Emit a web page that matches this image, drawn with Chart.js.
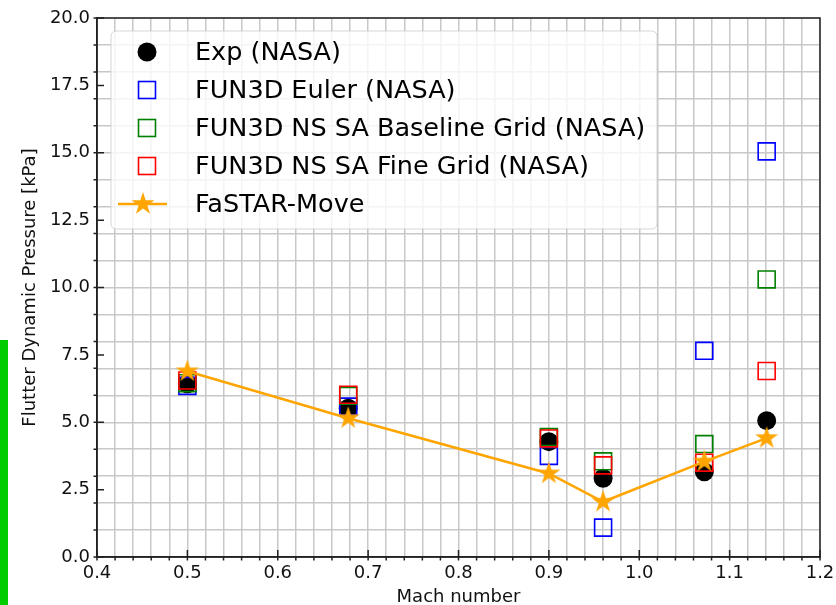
<!DOCTYPE html>
<html>
<head>
<meta charset="utf-8">
<script src="https://cdn.jsdelivr.net/npm/chart.js@4.4.0/dist/chart.umd.min.js"></script>
<style>
  html, body { margin: 0; padding: 0; background: #fff; }
  #wrap { position: relative; width: 836px; height: 605px; }
  #edge { position: absolute; left: 0; top: 340px; width: 8px; height: 265px; background: #00cc00; }
</style>
</head>
<body>
<div id="wrap">
  <canvas id="chart" width="836" height="605"></canvas>
  <div id="edge"></div>
</div>
<script>
// Mach numbers of the test points
const mach = [0.5, 0.678, 0.9, 0.96, 1.072, 1.141];

// flutter dynamic pressure [kPa]
const expNasa = [6.43, 5.52, 4.28, 2.92, 3.16, 5.06];
const fun3dEuler = [6.35, 5.58, 3.75, 1.09, 7.65, 15.05];
const fun3dBaseline = [6.45, 5.98, 4.45, 3.55, 4.19, 10.3];
const fun3dFine = [6.55, 6.02, 4.4, 3.4, 3.5, 6.9];
const fastarMove = [6.89, 5.15, 3.1, 2.05, 3.54, 4.41];

// tick labels
const xTickLabels = ['0.4', '0.5', '0.6', '0.7', '0.8', '0.9', '1.0', '1.1', '1.2'];
const yTickLabels = ['0.0', '2.5', '5.0', '7.5', '10.0', '12.5', '15.0', '17.5', '20.0'];

// minor grid every 0.02 in Mach and every 1 kPa
const xGrid = [];
for (let i = 0; i <= 40; i++) xGrid.push(+(0.4 + i * 0.02).toFixed(2));
const yGrid = [];
for (let i = 0; i <= 20; i++) yGrid.push(i);

const yMajor = yTickLabels.map(Number);
const xMajor = xTickLabels.map(Number);
const yAll = Array.from(new Set(yGrid.concat(yMajor))).sort((a, b) => a - b);

const FONT = 'DejaVu Sans';
const GRID = '#c8c8c8';
const AXIS = '#222222';

function toPoints(ys) {
  return mach.map((m, i) => ({ x: m, y: ys[i] }));
}

function starImage(r, color) {
  const c = document.createElement('canvas');
  const s = Math.ceil(r * 2 + 2);
  c.width = s;
  c.height = s;
  const g = c.getContext('2d');
  g.translate(s / 2, s / 2);
  g.beginPath();
  for (let k = 0; k < 10; k++) {
    const rad = k % 2 === 0 ? r : r * 0.382;
    const a = -Math.PI / 2 + k * Math.PI / 5;
    g.lineTo(rad * Math.cos(a), rad * Math.sin(a));
  }
  g.closePath();
  g.fillStyle = color;
  g.fill();
  return c;
}
const star = starImage(12, '#ffa500');

function isIn(list, v) {
  return list.some((t) => Math.abs(t - v) < 1e-9);
}

// frame, tick marks and legend drawn on top
const decorations = {
  id: 'decorations',
  afterDraw(chart) {
    const { ctx, chartArea: a, scales: { x, y } } = chart;
    ctx.save();
    ctx.strokeStyle = AXIS;
    ctx.lineWidth = 1.5;
    ctx.beginPath();
    ctx.rect(a.left, a.top, a.right - a.left, a.bottom - a.top);
    ctx.stroke();

    ctx.beginPath();
    xGrid.forEach((v) => {
      const px = x.getPixelForValue(v);
      ctx.moveTo(px, a.bottom);
      ctx.lineTo(px, a.bottom + 3.5);
    });
    xMajor.forEach((v) => {
      const px = x.getPixelForValue(v);
      ctx.moveTo(px, a.bottom);
      ctx.lineTo(px, a.bottom - 7);
    });
    yGrid.forEach((v) => {
      const py = y.getPixelForValue(v);
      ctx.moveTo(a.left, py);
      ctx.lineTo(a.left - 3.5, py);
    });
    yMajor.forEach((v) => {
      const py = y.getPixelForValue(v);
      ctx.moveTo(a.left, py);
      ctx.lineTo(a.left + 7, py);
    });
    ctx.stroke();

    // legend box
    const bx = 111, by = 31, bw = 546, bh = 198, br = 5;
    ctx.beginPath();
    ctx.moveTo(bx + br, by);
    ctx.arcTo(bx + bw, by, bx + bw, by + bh, br);
    ctx.arcTo(bx + bw, by + bh, bx, by + bh, br);
    ctx.arcTo(bx, by + bh, bx, by, br);
    ctx.arcTo(bx, by, bx + bw, by, br);
    ctx.closePath();
    ctx.fillStyle = 'rgba(255,255,255,0.8)';
    ctx.fill();
    ctx.strokeStyle = 'rgba(204,204,204,0.8)';
    ctx.lineWidth = 1;
    ctx.stroke();

    const mx = 147, tx = 195, ty0 = 52, dy = 38;
    ctx.font = '25.5px "' + FONT + '"';
    ctx.textBaseline = 'middle';
    ctx.textAlign = 'left';
    chart.data.datasets.slice().sort((p, q) => p.legendIndex - q.legendIndex).forEach((ds, i) => {
      const cy = ty0 + i * dy;
      if (ds.showLine) {
        ctx.strokeStyle = ds.borderColor;
        ctx.lineWidth = ds.borderWidth;
        ctx.beginPath();
        ctx.moveTo(mx - 29, cy);
        ctx.lineTo(mx + 20, cy);
        ctx.stroke();
        ctx.drawImage(ds.pointStyle, mx - ds.pointStyle.width / 2 - 4, cy - ds.pointStyle.height / 2);
      } else if (ds.pointStyle === 'circle') {
        ctx.fillStyle = ds.pointBackgroundColor;
        ctx.beginPath();
        ctx.arc(mx, cy, ds.pointRadius, 0, Math.PI * 2);
        ctx.fill();
      } else {
        const h = ds.pointRadius * Math.SQRT1_2;
        ctx.strokeStyle = ds.pointBorderColor;
        ctx.lineWidth = ds.pointBorderWidth;
        ctx.strokeRect(mx - h, cy - h, 2 * h, 2 * h);
      }
      ctx.fillStyle = '#000';
      ctx.fillText(ds.label, tx, cy + 1);
    });
    ctx.restore();
  },
};

new Chart(document.getElementById('chart'), {
  type: 'scatter',
  data: {
    datasets: [
      {
        label: 'FaSTAR-Move', legendIndex: 4, order: 0,
        data: toPoints(fastarMove), showLine: true,
        borderColor: '#ffa500', borderWidth: 2.5,
        pointStyle: star, pointRadius: 12,
      },
      {
        label: 'FUN3D NS SA Fine Grid (NASA)', legendIndex: 3, order: 1,
        data: toPoints(fun3dFine), showLine: false,
        pointStyle: 'rect', pointRadius: 12, pointBorderWidth: 1.6,
        pointBorderColor: '#ff0000', pointBackgroundColor: 'rgba(0,0,0,0)',
      },
      {
        label: 'FUN3D NS SA Baseline Grid (NASA)', legendIndex: 2, order: 2,
        data: toPoints(fun3dBaseline), showLine: false,
        pointStyle: 'rect', pointRadius: 12, pointBorderWidth: 1.6,
        pointBorderColor: '#008000', pointBackgroundColor: 'rgba(0,0,0,0)',
      },
      {
        label: 'FUN3D Euler (NASA)', legendIndex: 1, order: 3,
        data: toPoints(fun3dEuler), showLine: false,
        pointStyle: 'rect', pointRadius: 12, pointBorderWidth: 1.6,
        pointBorderColor: '#0000ff', pointBackgroundColor: 'rgba(0,0,0,0)',
      },
      {
        label: 'Exp (NASA)', legendIndex: 0, order: 4,
        data: toPoints(expNasa), showLine: false,
        pointStyle: 'circle', pointRadius: 9.5, pointBorderWidth: 0,
        pointBackgroundColor: '#000000', pointBorderColor: '#000000',
      },
    ],
  },
  options: {
    responsive: false,
    animation: false,
    layout: { padding: { top: 18, right: 16, left: 0, bottom: 0 } },
    plugins: { legend: { display: false }, tooltip: { enabled: false } },
    scales: {
      x: {
        type: 'linear', min: 0.4, max: 1.2,
        afterFit: (s) => { s.height = 48; s.paddingLeft = 0; s.paddingRight = 0; },
        afterBuildTicks: (s) => { s.ticks = xGrid.map((v) => ({ value: v })); },
        grid: { color: GRID, lineWidth: 1.5, drawTicks: false },
        border: { color: AXIS, width: 1.5 },
        ticks: {
          autoSkip: false, maxRotation: 0, minRotation: 0, padding: 6,
          color: '#111', font: { family: FONT, size: 18 },
          callback: (v) => (isIn(xMajor, v) ? v.toFixed(1) : ''),
        },
        title: {
          display: true, text: 'Mach number', color: '#111',
          font: { family: FONT, size: 18, lineHeight: 1 }, padding: { top: 0, bottom: -1 },
        },
      },
      y: {
        type: 'linear', min: 0, max: 20,
        afterFit: (s) => { s.width = 97; s.paddingTop = 0; s.paddingBottom = 0; },
        afterBuildTicks: (s) => { s.ticks = yAll.map((v) => ({ value: v })); },
        grid: {
          lineWidth: 1.5, drawTicks: false,
          color: (c) => (Number.isInteger(c.tick.value) ? GRID : 'rgba(0,0,0,0)'),
        },
        border: { color: AXIS, width: 1.5 },
        ticks: {
          autoSkip: false, padding: 7,
          color: '#111', font: { family: FONT, size: 18 },
          callback: (v) => (isIn(yMajor, v) ? v.toFixed(1) : ''),
        },
        title: {
          display: true, text: 'Flutter Dynamic Pressure [kPa]', color: '#111',
          font: { family: FONT, size: 18, lineHeight: 1 }, padding: { top: 21, bottom: 0 },
        },
      },
    },
  },
  plugins: [decorations],
});
</script>
</body>
</html>
